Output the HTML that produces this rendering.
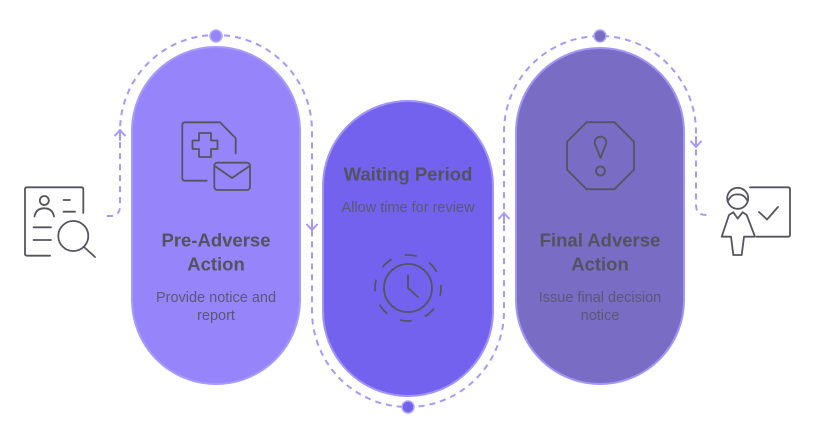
<!DOCTYPE html>
<html>
<head>
<meta charset="utf-8">
<style>
  html,body{margin:0;padding:0;background:#ffffff;}
  body{width:816px;height:440px;overflow:hidden;}
  svg{display:block;}
  .t{font-family:"Liberation Sans",Arial,sans-serif;font-weight:bold;font-size:18.5px;fill:#53535f;text-anchor:middle;}
  .d{font-family:"Liberation Sans",Arial,sans-serif;font-size:14.5px;fill:#5b5872;text-anchor:middle;}
  .ic{fill:none;stroke:#55555f;stroke-width:1.8;stroke-linecap:round;stroke-linejoin:round;}
</style>
</head>
<body>
<svg width="816" height="440" viewBox="0 0 816 440" xmlns="http://www.w3.org/2000/svg">
  <!-- dashed connector -->
  <path d="M107,216 L110,216 Q120,216 120,206 L120,131 A96,96 0 0 1 312,131 L312,311 A96,96 0 0 0 504,311 L504,132 A96,96 0 0 1 696,132 L696,205 Q696,215 706,215 L708,215"
        fill="none" stroke="#a998f8" stroke-width="2" stroke-dasharray="6 5"/>
  <!-- arrows -->
  <g fill="none" stroke="#a998f8" stroke-width="2" stroke-linecap="round" stroke-linejoin="round">
    <path d="M115,135.5 L120,130 L125,135.5 M120,130 L120,140"/>
    <path d="M307,224.5 L312,230 L317,224.5 M312,230 L312,220"/>
    <path d="M499,218.5 L504,213 L509,218.5 M504,213 L504,223"/>
    <path d="M691,141.5 L696,147 L701,141.5 M696,147 L696,137"/>
  </g>

  <!-- pills -->
  <rect x="132" y="47" width="168" height="337" rx="84" ry="84" fill="#9684fb" stroke="#a899fa" stroke-width="2"/>
  <rect x="323" y="101" width="170" height="295" rx="85" ry="85" fill="#7262ee" stroke="#a293f6" stroke-width="2"/>
  <rect x="516" y="48" width="168" height="336" rx="84" ry="84" fill="#786cc4" stroke="#a495f4" stroke-width="2"/>

  <!-- dots -->
  <circle cx="216" cy="36" r="6" fill="#9684fb" stroke="#b6aafa" stroke-width="1.5"/>
  <circle cx="408" cy="407" r="6" fill="#7262ee" stroke="#b0a3f7" stroke-width="1.5"/>
  <circle cx="600" cy="36" r="6" fill="#786cc4" stroke="#b0a3f7" stroke-width="1.5"/>

  <!-- texts -->
  <text class="t" x="216" y="246.5">Pre-Adverse</text>
  <text class="t" x="216" y="270.5">Action</text>
  <text class="d" x="216" y="302">Provide notice and</text>
  <text class="d" x="216" y="320">report</text>

  <text class="t" x="408" y="180.5">Waiting Period</text>
  <text class="d" x="408" y="212">Allow time for review</text>

  <text class="t" x="600" y="246.5">Final Adverse</text>
  <text class="t" x="600" y="270.5">Action</text>
  <text class="d" x="600" y="302">Issue final decision</text>
  <text class="d" x="600" y="320">notice</text>

  <!-- left icon: id card + magnifier -->
  <g class="ic">
    <path d="M50,255.7 L27,255.7 Q25,255.7 25,253.7 L25,189.3 Q25,187.3 27,187.3 L81.3,187.3 Q83.3,187.3 83.3,189.3 L83.3,213"/>
    <circle cx="44.3" cy="200.5" r="4.5"/>
    <path d="M34.5,216.5 Q36,208.3 44.3,208.3 Q52.5,208.3 54,216.5"/>
    <path d="M63.5,200 L70,200 M63.5,211.7 L75,211.7 M33.5,227.3 L51,227.3 M33.5,240 L51,240"/>
    <circle cx="73.3" cy="236" r="15"/>
    <path d="M84,247 L95,257"/>
  </g>

  <!-- pill 1 icon: document + cross + envelope -->
  <g class="ic">
    <path d="M206.7,180.7 L185,180.7 Q182.3,180.7 182.3,178 L182.3,125 Q182.3,122.3 185,122.3 L220,122.3 L235.7,138.3 L235.7,153.3"/>
    <path d="M199,133 L211,133 L211,140.5 L217.5,140.5 L217.5,149 L211,149 L211,157 L199,157 L199,149 L192.5,149 L192.5,140.5 L199,140.5 Z"/>
    <rect x="214.3" y="162.7" width="35.7" height="27.3" rx="3" ry="3"/>
    <path d="M215.5,166.5 L232,178 L248.8,166.5"/>
  </g>

  <!-- pill 2 icon: clock -->
  <g class="ic">
    <circle cx="408" cy="288" r="24"/>
    <circle cx="408" cy="288" r="33" stroke-dasharray="12 14" stroke-dashoffset="4" stroke-linecap="butt"/>
    <path d="M408,275 L408,288 L418,297"/>
  </g>

  <!-- pill 3 icon: octagon alert -->
  <g class="ic">
    <polygon points="586.6,122.2 614.4,122.2 634,141.8 634,169.6 614.4,189.2 586.6,189.2 567,169.6 567,141.8"/>
    <path d="M600.5,158 L594.8,143.5 A5.8,5.8 0 1 1 606.2,143.5 Z"/>
    <circle cx="600.5" cy="171" r="4.5"/>
  </g>

  <!-- right icon: person + board -->
  <g class="ic">
    <circle cx="737.7" cy="198.3" r="10.5"/>
    <path d="M727.8,201 Q732,193.5 737.7,194.5 Q743.5,193.5 747.6,201"/>
    <path d="M733.3,212.3 L737.7,218.5 L742.7,212.3"/>
    <path d="M733.3,212.3 L729,215 L721.7,236.7 L731,236.7 L733.3,255 L741.7,255 L744,236.7 L755,236.7 L746.7,215 L742.7,212.3"/>
    <path d="M750,187.3 L788,187.3 Q790,187.3 790,189.3 L790,234.7 Q790,236.7 788,236.7 L756.7,236.7"/>
    <path d="M759,212 L767,219.5 L778,207"/>
  </g>
</svg>
</body>
</html>
